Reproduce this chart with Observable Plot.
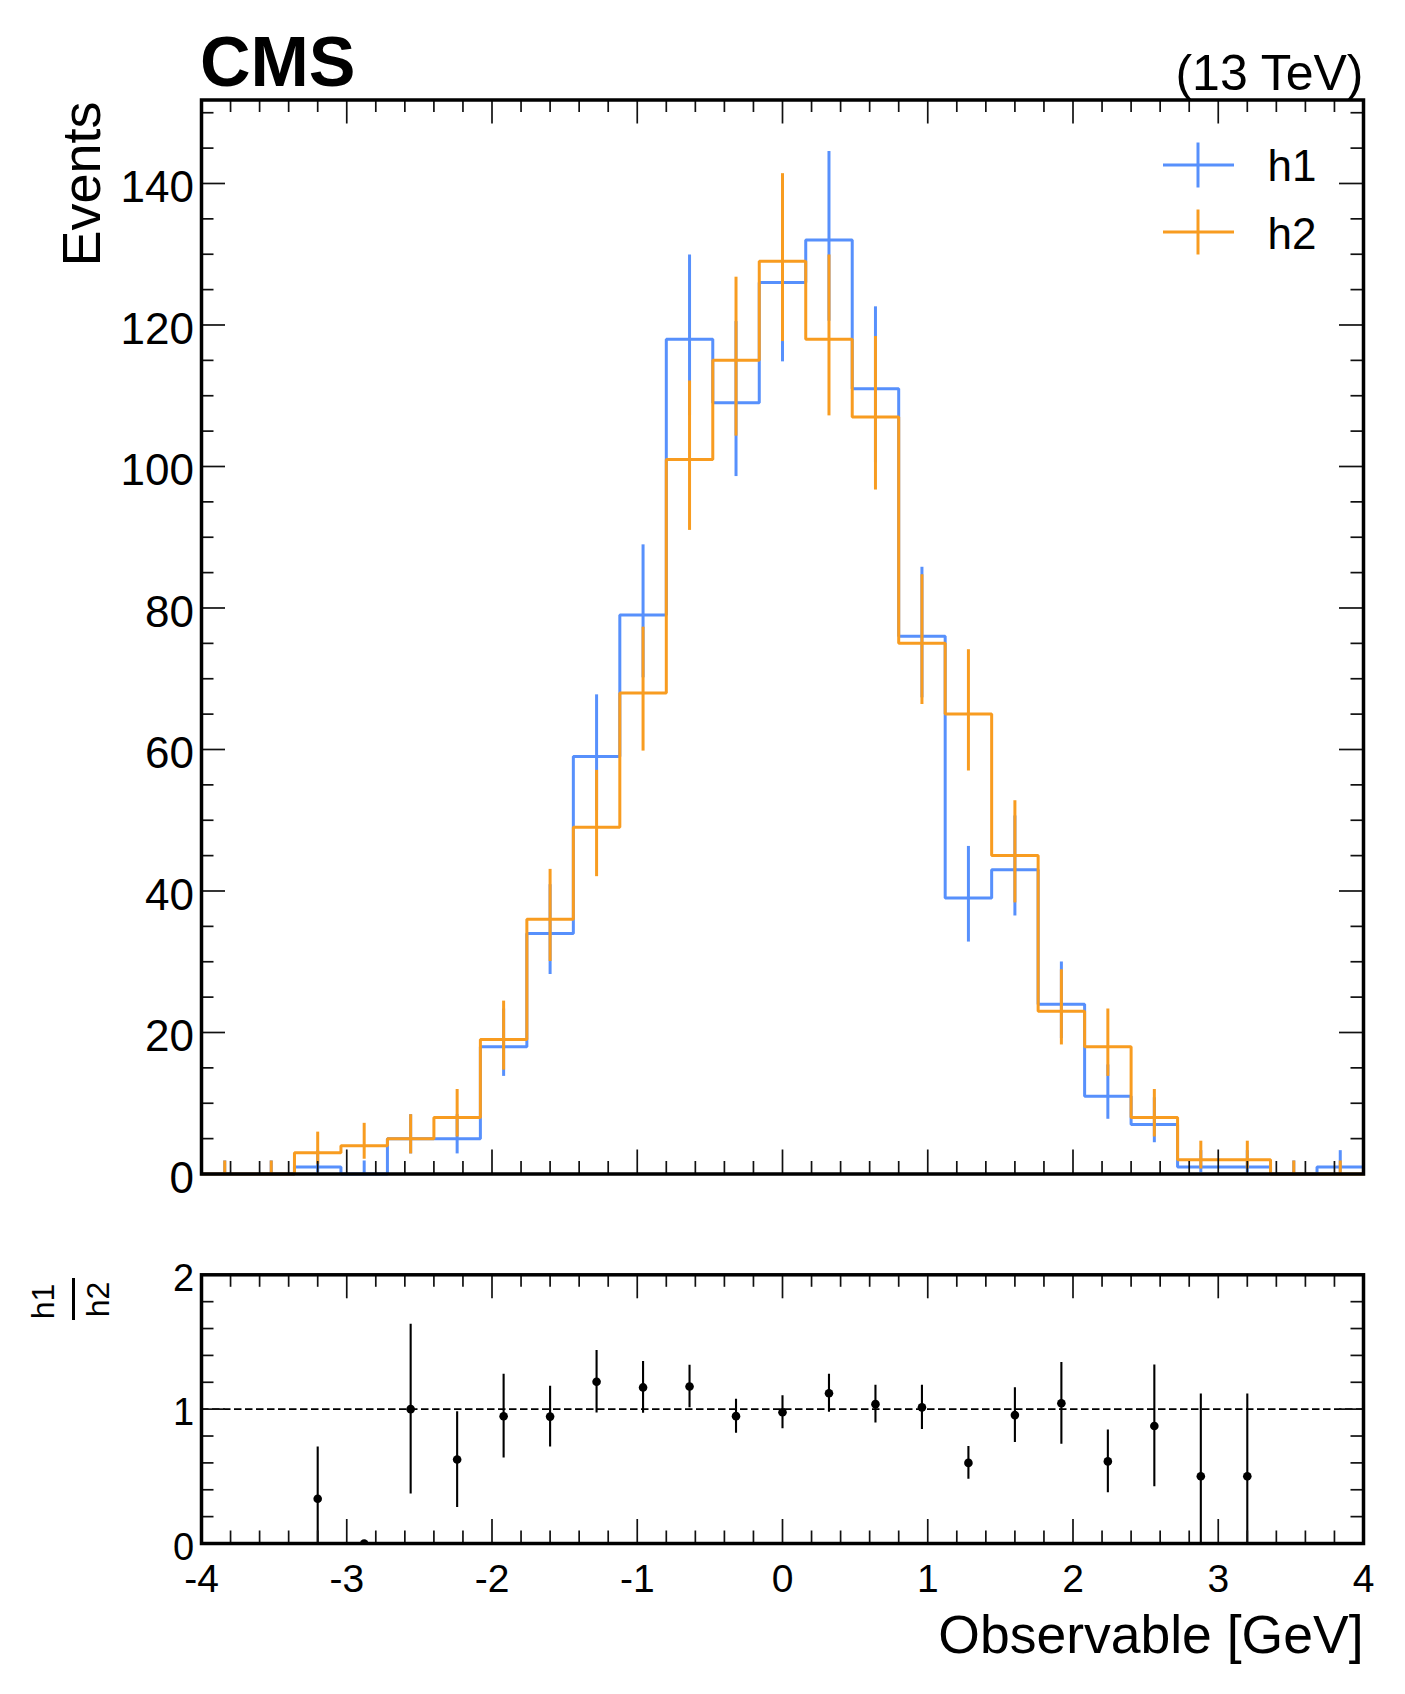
<!DOCTYPE html>
<html>
<head>
<meta charset="utf-8">
<script src="https://cdn.jsdelivr.net/npm/d3@7"></script>
<script src="https://cdn.jsdelivr.net/npm/@observablehq/plot@0.6"></script>
<style>
html, body { margin: 0; padding: 0; background: #fff; }
#chart { position: relative; width: 1405px; height: 1694px; background: #fff; overflow: hidden; font-family: "Liberation Sans", Arial, sans-serif; }
#chart > .layer { position: absolute; left: 0; }
#chart svg { display: block; }
</style>
</head>
<body>
<div id="chart"></div>
<script>
// ---------------- data ----------------
const binEdges = [-4, -3.68, -3.36, -3.04, -2.72, -2.4, -2.08, -1.76, -1.44, -1.12, -0.8, -0.48, -0.16,
                  0.16, 0.48, 0.8, 1.12, 1.44, 1.76, 2.08, 2.4, 2.72, 3.04, 3.36, 3.68, 4];
const h1Counts = [0, 0, 1, 0, 5, 5, 18, 34, 59, 79, 118, 109, 126, 132, 111, 76, 39, 43, 24, 11, 7, 1, 1, 0, 1];
const h2Counts = [0, 0, 3, 4, 5, 8, 19, 36, 49, 68, 101, 115, 129, 118, 107, 75, 65, 45, 23, 18, 8, 2, 2, 0, 0];
const seriesNames = ["h1", "h2"];
const seriesColors = ["#5790fc", "#f89c20"];
const xTickLabels = [-4, -3, -2, -1, 0, 1, 2, 3, 4];
const yTickLabels = [0, 20, 40, 60, 80, 100, 120, 140];
const ratioTickLabels = [0, 1, 2];
const xMinorTicks = d3.range(-40, 41, 2).map(v => v / 10).filter(v => Math.abs(v % 1) > 1e-9);
const yMinorTicks = d3.range(5, 151, 5).filter(v => v % 20 !== 0);
const ratioMinorTicks = d3.range(0, 21, 2).map(v => v / 10).filter(v => Math.abs(v % 1) > 1e-9);

// ---------------- Garwood (Poisson) intervals for histogram errors ----------------
function lnGamma(z) {
  const c = [0.99999999999980993, 676.5203681218851, -1259.1392167224028, 771.32342877765313,
             -176.61502916214059, 12.507343278686905, -0.13857109526572012, 9.9843695780195716e-6, 1.5056327351493116e-7];
  if (z < 0.5) return Math.log(Math.PI / Math.sin(Math.PI * z)) - lnGamma(1 - z);
  z -= 1;
  let x = c[0];
  for (let i = 1; i < 9; i++) x += c[i] / (z + i);
  const t = z + 7.5;
  return 0.5 * Math.log(2 * Math.PI) + (z + 0.5) * Math.log(t) - t + Math.log(x);
}
function gammaP(a, x) {
  if (x <= 0) return 0;
  const lpre = -x + a * Math.log(x) - lnGamma(a);
  if (x < a + 1) {
    let ap = a, sum = 1 / a, del = sum;
    for (let n = 0; n < 1000; n++) { ap += 1; del *= x / ap; sum += del; if (Math.abs(del) < Math.abs(sum) * 1e-15) break; }
    return sum * Math.exp(lpre);
  }
  let b = x + 1 - a, c = 1e300, d = 1 / b, h = d;
  for (let i = 1; i < 1000; i++) {
    const an = -i * (i - a); b += 2;
    d = an * d + b; if (Math.abs(d) < 1e-300) d = 1e-300;
    c = b + an / c; if (Math.abs(c) < 1e-300) c = 1e-300;
    d = 1 / d; const del = d * c; h *= del;
    if (Math.abs(del - 1) < 1e-15) break;
  }
  return 1 - Math.exp(lpre) * h;
}
function gammaInv(p, a) {
  let lo = 0, hi = a + 20 * Math.sqrt(a) + 20;
  for (let i = 0; i < 200; i++) { const m = (lo + hi) / 2; if (gammaP(a, m) < p) lo = m; else hi = m; }
  return (lo + hi) / 2;
}
const P_LO = 0.15865525393145707, P_HI = 0.8413447460685429;
function poissonInterval(n) { return [n === 0 ? 0 : gammaInv(P_LO, n), gammaInv(P_HI, n + 1)]; }

function errorRows(counts) {
  return counts.map((c, i) => {
    const [lo, hi] = poissonInterval(c);
    return {x: (binEdges[i] + binEdges[i + 1]) / 2, y: c, lo, hi};
  });
}
function stepRows(counts) {
  const rows = counts.map((c, i) => ({x: binEdges[i], y: c}));
  rows.push({x: binEdges[binEdges.length - 1], y: counts[counts.length - 1]});
  return rows;
}
const ratioRows = h1Counts.map((a, i) => {
  const b = h2Counts[i];
  const x = (binEdges[i] + binEdges[i + 1]) / 2;
  const r = b > 0 ? a / b : null;
  const err = (a > 0 && b > 0) ? r * Math.sqrt(1 / a + 1 / b) : null;
  return {x, r, err};
});

// ---------------- layout ----------------
const W = 1405;
const X0 = 201, X1 = 1363;
const MAIN_H = 1200, Y0 = 99.5, Y1 = 1173.5;
const R_TOP = 1200, R_H = 494, RY0 = 1274.3, RY1 = 1543;
const FONT = '"Liberation Sans", Arial, Helvetica, sans-serif';
const MAJOR = 24, MINOR = 12.5;
const LW = 3;
const tickStyle = {stroke: "#111", strokeWidth: 1.7};

function frameTicks(xMajor, xMinor, yMajor, yMinor, fw, fh) {
  const out = [];
  for (const [vals, len] of [[xMajor, MAJOR], [xMinor, MINOR]]) {
    out.push(Plot.tickX(vals, {x: d => d, insetTop: fh - len, ...tickStyle}));
    out.push(Plot.tickX(vals, {x: d => d, insetBottom: fh - len, ...tickStyle}));
  }
  for (const [vals, len] of [[yMajor, MAJOR], [yMinor, MINOR]]) {
    out.push(Plot.tickY(vals, {y: d => d, insetRight: fw - len, ...tickStyle}));
    out.push(Plot.tickY(vals, {y: d => d, insetLeft: fw - len, ...tickStyle}));
  }
  return out;
}

const histMarks = [];
[h1Counts, h2Counts].forEach((counts, k) => {
  histMarks.push(Plot.line(stepRows(counts), {x: "x", y: "y", curve: "step-after", stroke: seriesColors[k], strokeWidth: LW, strokeLinejoin: "miter"}));
  histMarks.push(Plot.ruleX(errorRows(counts), {x: "x", y1: "lo", y2: "hi", stroke: seriesColors[k], strokeWidth: LW}));
});

const main = Plot.plot({
  width: W, height: MAIN_H,
  marginLeft: X0, marginRight: W - X1, marginTop: Y0, marginBottom: MAIN_H - Y1,
  x: {domain: [-4, 4], axis: null},
  y: {domain: [0, 151.8]},
  style: {fontFamily: FONT, fontSize: "44px", background: "transparent", overflow: "visible", color: "black"},
  marks: [
    ...histMarks,
    ...frameTicks(xTickLabels, xMinorTicks, yTickLabels, yMinorTicks, X1 - X0, Y1 - Y0),
    Plot.frame({stroke: "black", strokeWidth: 3.5}),
    Plot.axisY({ticks: yTickLabels, tickSize: 0, tickPadding: 7.5, label: null, tickFormat: d => String(d), dy: 4.5, fontSize: 44}),
    Plot.text(["CMS"], {frameAnchor: "top-left", text: d => d, fontWeight: "bold", fontSize: 70, textAnchor: "start", lineAnchor: "bottom", dx: -1.5, dy: -14.5}),
    Plot.text(["(13 TeV)"], {frameAnchor: "top-right", text: d => d, fontSize: 50, textAnchor: "end", lineAnchor: "bottom", dy: -10}),
    Plot.text(["Events"], {frameAnchor: "top-left", text: d => d, fontSize: 54, rotate: -90, textAnchor: "end", lineAnchor: "bottom", dx: 99 - X0, dy: 1.5}),
    Plot.text([seriesNames[0]], {frameAnchor: "top-right", text: d => d, fontSize: 44, textAnchor: "start", lineAnchor: "bottom", dx: 1267 - X1, dy: 180.5 - Y0}),
    Plot.text([seriesNames[1]], {frameAnchor: "top-right", text: d => d, fontSize: 44, textAnchor: "start", lineAnchor: "bottom", dx: 1267 - X1, dy: 248.5 - Y0})
  ]
});

const ratio = Plot.plot({
  width: W, height: R_H,
  marginLeft: X0, marginRight: W - X1, marginTop: RY0 - R_TOP, marginBottom: R_TOP + R_H - RY1,
  x: {domain: [-4, 4]},
  y: {domain: [0, 2]},
  style: {fontFamily: FONT, fontSize: "38px", background: "transparent", overflow: "visible", color: "black"},
  marks: [
    Plot.ruleY([1], {stroke: "black", strokeWidth: 1.8, strokeDasharray: "7.5,3.5"}),
    Plot.ruleX(ratioRows.filter(d => d.err != null), {x: "x", y1: d => d.r - d.err, y2: d => d.r + d.err, stroke: "black", strokeWidth: 2.1, clip: true}),
    Plot.dot(ratioRows.filter(d => d.r != null), {x: "x", y: "r", r: 4.3, fill: "black", clip: true}),
    ...frameTicks(xTickLabels, xMinorTicks, ratioTickLabels, ratioMinorTicks, X1 - X0, RY1 - RY0),
    Plot.frame({stroke: "black", strokeWidth: 3.5}),
    Plot.axisX({ticks: xTickLabels, tickSize: 0, tickPadding: 21, label: null, tickFormat: d => String(d), fontSize: 39}),
    Plot.axisY({ticks: ratioTickLabels, tickSize: 0, tickPadding: 7.3, label: null, tickFormat: d => String(d), dy: 4, fontSize: 38}),
    Plot.text(["Observable [GeV]"], {frameAnchor: "bottom-right", text: d => d, fontSize: 53.5, textAnchor: "end", lineAnchor: "bottom", dy: 1652 - RY1}),
    Plot.text([seriesNames[0]], {frameAnchor: "top-left", text: d => d, fontSize: 32, rotate: -90, textAnchor: "middle", lineAnchor: "bottom", dx: 53 - X0, dy: 1301 - RY0}),
    Plot.text([seriesNames[1]], {frameAnchor: "top-left", text: d => d, fontSize: 32, rotate: -90, textAnchor: "middle", lineAnchor: "bottom", dx: 108 - X0, dy: 1299 - RY0}),
    Plot.ruleX([-4], {dx: 73 - X0, insetTop: 1278 - RY0, insetBottom: RY1 - 1320, stroke: "black", strokeWidth: 3})
  ]
});

// ---------------- assemble ----------------
const chart = document.getElementById("chart");
const l1 = document.createElement("div"); l1.className = "layer"; l1.style.top = "0px"; l1.appendChild(main); chart.appendChild(l1);
const l2 = document.createElement("div"); l2.className = "layer"; l2.style.top = R_TOP + "px"; l2.appendChild(ratio); chart.appendChild(l2);

// legend symbols (cross = step line + error bar)
const leg = d3.create("svg").attr("width", W).attr("height", 300)
  .style("position", "absolute").style("left", "0px").style("top", "0px");
const legendRows = [165, 232];
seriesColors.forEach((col, k) => {
  const cy = legendRows[k];
  leg.append("line").attr("x1", 1163).attr("x2", 1234).attr("y1", cy).attr("y2", cy).attr("stroke", col).attr("stroke-width", LW);
  leg.append("line").attr("x1", 1198).attr("x2", 1198).attr("y1", cy - 22.5).attr("y2", cy + 22.5).attr("stroke", col).attr("stroke-width", LW);
});
chart.appendChild(leg.node());
</script>
</body>
</html>
